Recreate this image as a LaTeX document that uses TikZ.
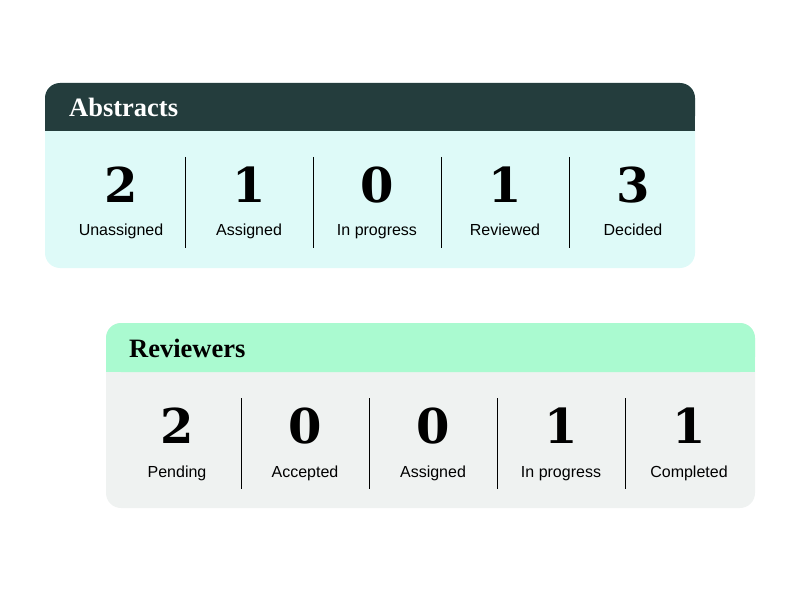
\documentclass[tikz,border=0pt]{standalone}
\usepackage{fontspec}
\setmainfont{Liberation Sans}
\newfontfamily\headfont{Liberation Serif}
\newfontfamily\numfont{DejaVu Serif}
\usepackage{tikz}

\definecolor{abshead}{HTML}{243D3D}
\definecolor{absbody}{HTML}{DEFAF8}
\definecolor{revhead}{HTML}{AAFAD0}
\definecolor{revbody}{HTML}{EFF2F1}

\tikzset{
  num/.style={anchor=base, inner sep=0pt, font=\numfont\bfseries\fontsize{48}{48}\selectfont},
  lab/.style={anchor=base, inner sep=0pt, font=\fontsize{16}{16}\selectfont},
  title/.style={anchor=base west, inner sep=0pt, font=\headfont\bfseries\fontsize{26.5}{26.5}\selectfont},
  divider/.style={line width=1pt, black}
}

\begin{document}
\begin{tikzpicture}[x=1pt,y=-1pt]
\useasboundingbox (0,0) rectangle (801,591);

% abstracts card
\fill[absbody, rounded corners=15] (45,83) rectangle (695,268);
\fill[abshead, rounded corners=15] (45,83) rectangle (695,131);
\fill[abshead] (45,110) rectangle (695,131);
\node[title, white] (abstitle) at (69,117) {Abstracts};
\node[num] (unassigned) at (121,203) {2};
\node[num] (assigned)   at (249,203) {1};
\node[num] (inprogress) at (377,203) {0};
\node[num] (reviewed)   at (505,203) {1};
\node[num] (decided)    at (633,203) {3};
\node[lab] (unassignedl) at (121,236) {Unassigned};
\node[lab] (assignedl)   at (249,236) {Assigned};
\node[lab] (inprogressl) at (377,236) {In progress};
\node[lab] (reviewedl)   at (505,236) {Reviewed};
\node[lab] (decidedl)    at (633,236) {Decided};
\draw[divider] (185,157) -- (185,248);
\draw[divider] (313,157) -- (313,248);
\draw[divider] (441,157) -- (441,248);
\draw[divider] (569,157) -- (569,248);

% reviewers card
\fill[revbody, rounded corners=15] (106,323) rectangle (755,508);
\fill[revhead, rounded corners=15] (106,323) rectangle (755,372);
\fill[revhead] (106,350) rectangle (755,372);
\node[title] (revtitle) at (129,357) {Reviewers};
\node[num] (pending)   at (177,443) {2};
\node[num] (accepted)  at (305,443) {0};
\node[num] (rassigned) at (433,443) {0};
\node[num] (rprogress) at (561,443) {1};
\node[num] (completed) at (689,443) {1};
\node[lab] (pendingl)   at (177,477) {Pending};
\node[lab] (acceptedl)  at (305,477) {Accepted};
\node[lab] (rassignedl) at (433,477) {Assigned};
\node[lab] (rprogressl) at (561,477) {In progress};
\node[lab] (completedl) at (689,477) {Completed};
\draw[divider] (241,398) -- (241,489);
\draw[divider] (369,398) -- (369,489);
\draw[divider] (497,398) -- (497,489);
\draw[divider] (625,398) -- (625,489);
\end{tikzpicture}
\end{document}
